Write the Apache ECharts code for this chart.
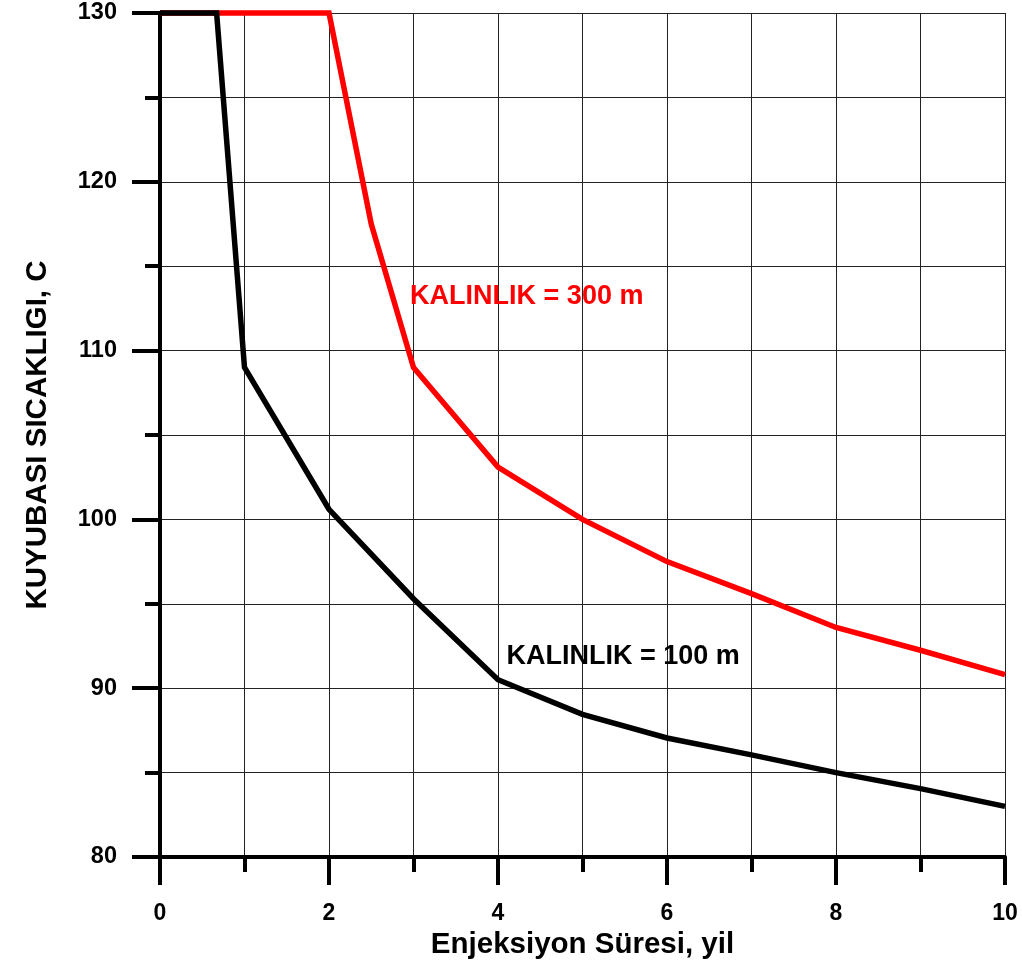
<!DOCTYPE html>
<html>
<head>
<meta charset="utf-8">
<script src="https://cdn.jsdelivr.net/npm/echarts@6/dist/echarts.min.js"></script>
<style>
html,body{margin:0;padding:0;background:#fff;}
#chart{width:1022px;height:967px;}
</style>
</head>
<body>
<div id="chart"></div>
<script>
// Injection time (years) and wellhead temperature (C)
var years100 = [0, 0.67, 1, 2, 3, 4, 5, 6, 7, 8, 9, 10];
var temp100  = [130, 130, 109, 100.6, 95.3, 90.5, 88.45, 87.05, 86.05, 85.0, 84.05, 83.0];
var years300 = [0, 2, 2.5, 3, 4, 5, 6, 7, 8, 9, 10];
var temp300  = [130, 130, 117.5, 109, 103.1, 100, 97.5, 95.6, 93.6, 92.25, 90.8];
var label100 = 'KALINLIK = 100 m';
var label300 = 'KALINLIK = 300 m';
var xTitle = 'Enjeksiyon Süresi, yil';
var yTitle = 'KUYUBASI SICAKLIGI, C';

function pairs(xs, ys){ return xs.map(function(x,i){ return [x, ys[i]]; }); }

var FONT = '"Liberation Sans", Arial, sans-serif';
var gridLine = {show:true, lineStyle:{color:'#222', width:1}};

var chart = echarts.init(document.getElementById('chart'));
chart.setOption({
  animation:false,
  backgroundColor:'#fff',
  grid:{left:160, right:17, top:13, bottom:110, containLabel:false},
  xAxis:{
    type:'value', min:0, max:10, interval:2,
    name:xTitle, nameLocation:'middle', nameGap:70,
    nameTextStyle:{fontFamily:FONT, fontWeight:'bold', fontSize:29.5, color:'#000'},
    axisLine:{show:true, onZero:false, lineStyle:{color:'#000', width:4}},
    axisTick:{show:true, inside:false, length:28, lineStyle:{color:'#000', width:4}},
    minorTick:{show:true, splitNumber:2, length:15, lineStyle:{color:'#000', width:4}},
    splitLine:gridLine,
    minorSplitLine:gridLine,
    axisLabel:{margin:45, fontFamily:FONT, fontWeight:'bold', fontSize:23, color:'#000'}
  },
  yAxis:{
    type:'value', min:80, max:130, interval:10,
    name:yTitle, nameLocation:'middle', nameGap:107, nameRotate:90,
    nameTextStyle:{fontFamily:FONT, fontWeight:'bold', fontSize:29.5, color:'#000'},
    axisLine:{show:true, onZero:false, lineStyle:{color:'#000', width:4}},
    axisTick:{show:true, inside:false, length:28, lineStyle:{color:'#000', width:4}},
    minorTick:{show:true, splitNumber:2, length:15, lineStyle:{color:'#000', width:4}},
    splitLine:gridLine,
    minorSplitLine:gridLine,
    axisLabel:{margin:43, fontFamily:FONT, fontWeight:'bold', fontSize:23.5, color:'#000'}
  },
  series:[
    {
      type:'line', name:label300, data:pairs(years300, temp300),
      showSymbol:false, symbol:'none', clip:false,
      lineStyle:{color:'#ff0000', width:5.5, join:'miter'},
      z:3,
      markPoint:{
        symbol:'circle', symbolSize:0,
        label:{show:true, position:'right', distance:0, formatter:label300,
          fontFamily:FONT, fontWeight:'bold', fontSize:27, color:'#ff0000'},
        data:[{coord:[2.96, 113.2]}]
      }
    },
    {
      type:'line', name:label100, data:pairs(years100, temp100),
      showSymbol:false, symbol:'none', clip:false,
      lineStyle:{color:'#000000', width:5.5, join:'miter'},
      z:4,
      markPoint:{
        symbol:'circle', symbolSize:0,
        label:{show:true, position:'right', distance:0, formatter:label100,
          fontFamily:FONT, fontWeight:'bold', fontSize:27, color:'#000'},
        data:[{coord:[4.1, 91.85]}]
      }
    }
  ]
});
</script>
</body>
</html>
